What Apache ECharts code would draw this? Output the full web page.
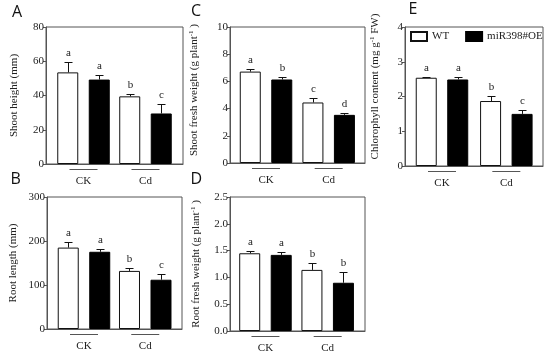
<!DOCTYPE html>
<html><head><meta charset="utf-8">
<script src="https://cdn.jsdelivr.net/npm/echarts@6/dist/echarts.min.js"></script>
<style>html,body{margin:0;padding:0;background:#fff}#c{width:550px;height:357px}</style>
</head><body><div id="c"></div>
<script>
// ---------- data ----------
const groups = ['CK', 'Cd'];
const seriesNames = ['WT', 'miR398#OE'];

// A: Shoot height (mm)
const shootHeightWT = [53.5, 39.5];
const shootHeightWTErr = [6.0, 1.2];
const shootHeightOE = [49.3, 29.5];
const shootHeightOEErr = [2.6, 5.5];
const shootHeightWTLetters = ['a', 'b'];
const shootHeightOELetters = ['a', 'c'];

// B: Root length (mm)
const rootLengthWT = [185, 132];
const rootLengthWTErr = [12, 7];
const rootLengthOE = [175.5, 112];
const rootLengthOEErr = [6, 13];
const rootLengthWTLetters = ['a', 'b'];
const rootLengthOELetters = ['a', 'c'];

// C: Shoot fresh weight (g plant-1)
const shootFwWT = [6.72, 4.45];
const shootFwWTErr = [0.2, 0.33];
const shootFwOE = [6.14, 3.54];
const shootFwOEErr = [0.2, 0.17];
const shootFwWTLetters = ['a', 'c'];
const shootFwOELetters = ['b', 'd'];

// D: Root fresh weight (g plant-1)
const rootFwWT = [1.45, 1.14];
const rootFwWTErr = [0.05, 0.12];
const rootFwOE = [1.42, 0.90];
const rootFwOEErr = [0.05, 0.21];
const rootFwWTLetters = ['a', 'b'];
const rootFwOELetters = ['a', 'b'];

// E: Chlorophyll content (mg g-1 FW)
const chlWT = [2.54, 1.87];
const chlWTErr = [0.02, 0.14];
const chlOE = [2.49, 1.50];
const chlOEErr = [0.08, 0.12];
const chlWTLetters = ['a', 'b'];
const chlOELetters = ['a', 'c'];

// ---------- layout ----------
const SERIF = '"Liberation Serif", "Times New Roman", serif';
const AXIS_COLOR = '#555';
const TEXT_COLOR = '#222';
const BAR_W = 21;
const BAR_GAP = 0.5; // fraction of bar width
const OFF = (BAR_W + BAR_W * BAR_GAP) / 2;

const panels = [
  { letter: 'A', letterPos: { left: 12, top: 4 }, name: 'Shoot height (mm)', namePad: 0,
    wt: shootHeightWT, wtErr: shootHeightWTErr, oe: shootHeightOE, oeErr: shootHeightOEErr,
    wtL: shootHeightWTLetters, oeL: shootHeightOELetters,
    yMax: 80, yInt: 20, dec: 0, grid: { left: 46, top: 27, width: 137, height: 137 },
    xMin: -0.605, xMax: 1.605, nameGap: 25 },
  { letter: 'B', letterPos: { left: 10.5, top: 171 }, name: 'Root length (mm)', namePad: 0,
    wt: rootLengthWT, wtErr: rootLengthWTErr, oe: rootLengthOE, oeErr: rootLengthOEErr,
    wtL: rootLengthWTLetters, oeL: rootLengthOELetters,
    yMax: 300, yInt: 100, dec: 0, grid: { left: 47, top: 197, width: 135, height: 132 },
    xMin: -0.604, xMax: 1.6, nameGap: 27 },
  { letter: 'C', letterPos: { left: 191, top: 3 }, name: 'Shoot fresh weight (g plant{sup|-1} )', namePad: 10,
    wt: shootFwWT, wtErr: shootFwWTErr, oe: shootFwOE, oeErr: shootFwOEErr,
    wtL: shootFwWTLetters, oeL: shootFwOELetters,
    yMax: 10, yInt: 2, dec: 0, grid: { left: 230, top: 27, width: 135, height: 136 },
    xMin: -0.575, xMax: 1.58, nameGap: 29 },
  { letter: 'D', letterPos: { left: 190.5, top: 171 }, name: 'Root fresh weight (g plant{sup|-1} )', namePad: 0,
    wt: rootFwWT, wtErr: rootFwWTErr, oe: rootFwOE, oeErr: rootFwOEErr,
    wtL: rootFwWTLetters, oeL: rootFwOELetters,
    yMax: 2.5, yInt: 0.5, dec: 1, grid: { left: 230, top: 197, width: 135, height: 134 },
    xMin: -0.57, xMax: 1.6, nameGap: 27 },
  { letter: 'E', letterPos: { left: 408.5, top: 1 }, name: 'Chlorophyll content (mg g{sup|-1} FW)', namePad: 20,
    wt: chlWT, wtErr: chlWTErr, oe: chlOE, oeErr: chlOEErr,
    wtL: chlWTLetters, oeL: chlOELetters,
    yMax: 4, yInt: 1, dec: 0, grid: { left: 405, top: 27, width: 138, height: 139 },
    xMin: -0.575, xMax: 1.57, nameGap: 23 }
];

function errSeries(pi, values, errs, letters, offset) {
  return {
    type: 'custom', xAxisIndex: pi, yAxisIndex: pi, z: 5, clip: false,
    data: groups.map((g, i) => [i, values[i], errs[i]]),
    encode: { x: 0, y: 1 },
    renderItem: function (params, api) {
      const x = api.value(0), m = api.value(1), e = api.value(2);
      const base = api.coord([x, m]);
      const top = api.coord([x, m + e]);
      const cx = Math.round(base[0] + offset) + 0.5;
      const ty = Math.round(top[1]) + 0.5;
      return { type: 'group', children: [
        { type: 'line', shape: { x1: cx, y1: base[1], x2: cx, y2: ty }, style: { stroke: '#111', lineWidth: 1 } },
        { type: 'line', shape: { x1: cx - 4, y1: ty, x2: cx + 4, y2: ty }, style: { stroke: '#111', lineWidth: 1 } },
        { type: 'text', style: { text: letters[params.dataIndex], x: cx, y: ty - 4, align: 'center',
          verticalAlign: 'bottom', font: '11px ' + SERIF, fill: TEXT_COLOR } }
      ] };
    }
  };
}

const option = {
  animation: false,
  backgroundColor: '#fff',
  title: [], grid: [], xAxis: [], yAxis: [], series: [],
  legend: {
    data: seriesNames, left: 410, top: 31, padding: 0, itemWidth: 16, itemHeight: 9, itemGap: 16,
    icon: 'rect', selectedMode: false,
    textStyle: { fontFamily: SERIF, fontSize: 11, color: TEXT_COLOR }
  }
};

panels.forEach((p, pi) => {
  option.title.push({ text: p.letter, left: p.letterPos.left, top: p.letterPos.top, padding: 0,
    textStyle: { fontFamily: '"Open Sans", "DejaVu Sans", sans-serif', fontSize: 16, fontWeight: 'normal', color: '#111' } });
  option.grid.push(Object.assign({ show: true, borderColor: AXIS_COLOR, borderWidth: 1, backgroundColor: 'transparent' }, p.grid));
  option.xAxis.push({
    type: 'value', gridIndex: pi, min: p.xMin, max: p.xMax,
    axisLine: { show: true, onZero: false, lineStyle: { color: AXIS_COLOR } },
    axisTick: { show: false }, splitLine: { show: false },
    axisLabel: {
      customValues: groups.map((g, i) => i), margin: 5,
      formatter: v => '{u|}\n{t|' + groups[Math.round(v)] + '}',
      rich: {
        u: { width: 28, height: 1, lineHeight: 1, backgroundColor: '#555' },
        t: { fontFamily: SERIF, fontSize: 11, lineHeight: 22, color: TEXT_COLOR }
      }
    }
  });
  option.yAxis.push({
    type: 'value', gridIndex: pi, min: 0, max: p.yMax, interval: p.yInt,
    axisLine: { show: true, onZero: false, lineStyle: { color: AXIS_COLOR } },
    axisTick: { show: true, length: 3, lineStyle: { color: AXIS_COLOR } },
    splitLine: { show: false },
    axisLabel: { fontFamily: SERIF, fontSize: 11, color: TEXT_COLOR, margin: 2,
      formatter: v => v.toFixed(p.dec) },
    name: p.name, nameLocation: 'middle', nameGap: p.nameGap,
    nameTextStyle: { fontFamily: SERIF, fontSize: 11, lineHeight: 13, color: TEXT_COLOR,
      padding: [0, 0, 0, p.namePad],
      rich: { sup: { fontFamily: SERIF, fontSize: 7, lineHeight: 7, verticalAlign: 'top', color: TEXT_COLOR } } }
  });
  option.series.push({
    name: seriesNames[0], type: 'bar', xAxisIndex: pi, yAxisIndex: pi,
    barWidth: BAR_W, barGap: (BAR_GAP * 100) + '%',
    itemStyle: { color: '#fff', borderColor: '#111', borderWidth: 1 },
    data: groups.map((g, i) => [i, p.wt[i]])
  });
  option.series.push({
    name: seriesNames[1], type: 'bar', xAxisIndex: pi, yAxisIndex: pi,
    barWidth: BAR_W, barGap: (BAR_GAP * 100) + '%',
    itemStyle: { color: '#000', borderColor: '#000', borderWidth: 1 },
    data: groups.map((g, i) => [i, p.oe[i]])
  });
  option.series.push(errSeries(pi, p.wt, p.wtErr, p.wtL, -OFF));
  option.series.push(errSeries(pi, p.oe, p.oeErr, p.oeL, OFF));
});

const chart = echarts.init(document.getElementById('c'), null, { renderer: 'canvas' });
chart.setOption(option);
</script>
</body></html>
